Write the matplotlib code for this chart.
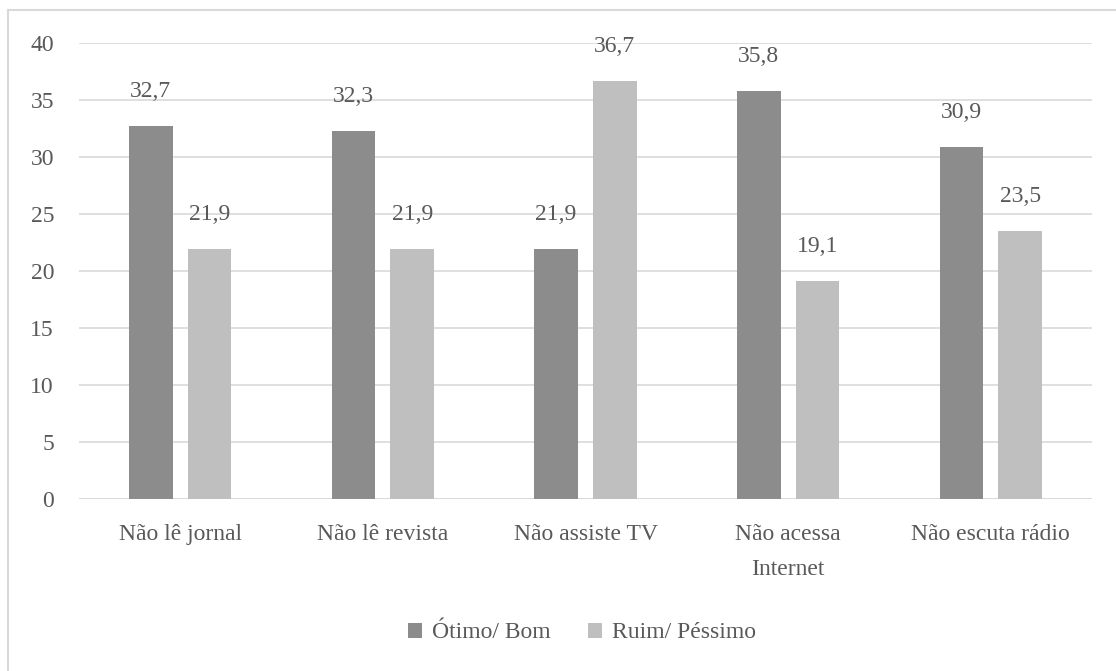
import matplotlib
matplotlib.use("Agg")
import matplotlib.pyplot as plt
import numpy as np
from matplotlib.lines import Line2D

categories = ["Não lê jornal", "Não lê revista", "Não assiste TV", "Não acessa\nInternet", "Não escuta rádio"]
otimo_bom = [32.7, 32.3, 21.9, 35.8, 30.9]
ruim_pessimo = [21.9, 21.9, 36.7, 19.1, 23.5]
series_names = ["Ótimo/ Bom", "Ruim/ Péssimo"]
yticks = [0, 5, 10, 15, 20, 25, 30, 35, 40]

plt.rcParams['font.family'] = ['Liberation Serif', 'DejaVu Serif']
txt = '#595959'
fs = 17

fig = plt.figure(figsize=(11.16, 6.71), dpi=100)
# outer frame: left and top edges
fig.lines.append(Line2D([8/1116, 8/1116], [0, 1 - 10/671], transform=fig.transFigure,
                        color='#d9d9d9', linewidth=1.5))
fig.lines.append(Line2D([8/1116, 1], [1 - 10/671, 1 - 10/671], transform=fig.transFigure,
                        color='#d9d9d9', linewidth=1.5))
ax = fig.add_axes([79/1116, 1 - 499/671, (1092-79)/1116, (499-43)/671])

x = np.arange(len(categories))
w = 0.215
off = 0.145
b1 = ax.bar(x - off, otimo_bom, w, color='#8c8c8c', label=series_names[0], zorder=3)
b2 = ax.bar(x + off, ruim_pessimo, w, color='#bfbfbf', label=series_names[1], zorder=3)

for bars, vals in ((b1, otimo_bom), (b2, ruim_pessimo)):
    for b, v in zip(bars, vals):
        ax.text(b.get_x() + b.get_width()/2, v + 2.1, f"{v:.1f}".replace('.', ','),
                ha='center', va='bottom', fontsize=fs, color=txt, zorder=4)

ax.set_xlim(-0.5, len(categories) - 0.5)
ax.set_ylim(0, 40)
ax.set_yticks(yticks)
ax.set_xticks(x)
ax.set_xticklabels(categories, fontsize=fs, color=txt, linespacing=1.85)
ax.tick_params(axis='y', labelsize=fs, labelcolor=txt, length=0, pad=18)
ax.tick_params(axis='x', length=0, pad=18)
ax.grid(axis='y', color='#d9d9d9', linewidth=1.2, zorder=0)
for s in ax.spines.values():
    s.set_visible(False)
ax.axhline(0, color='#d9d9d9', linewidth=1.2, zorder=2)

fig.legend(handles=[b1, b2], labels=series_names, loc='center', bbox_to_anchor=(582/1116, 1 - 633/671),
           ncol=2, frameon=False, fontsize=fs, labelcolor=txt, handlelength=0.6, handleheight=0.6,
           handletextpad=0.4, columnspacing=1.6)

fig.savefig("out.png", dpi=100)
